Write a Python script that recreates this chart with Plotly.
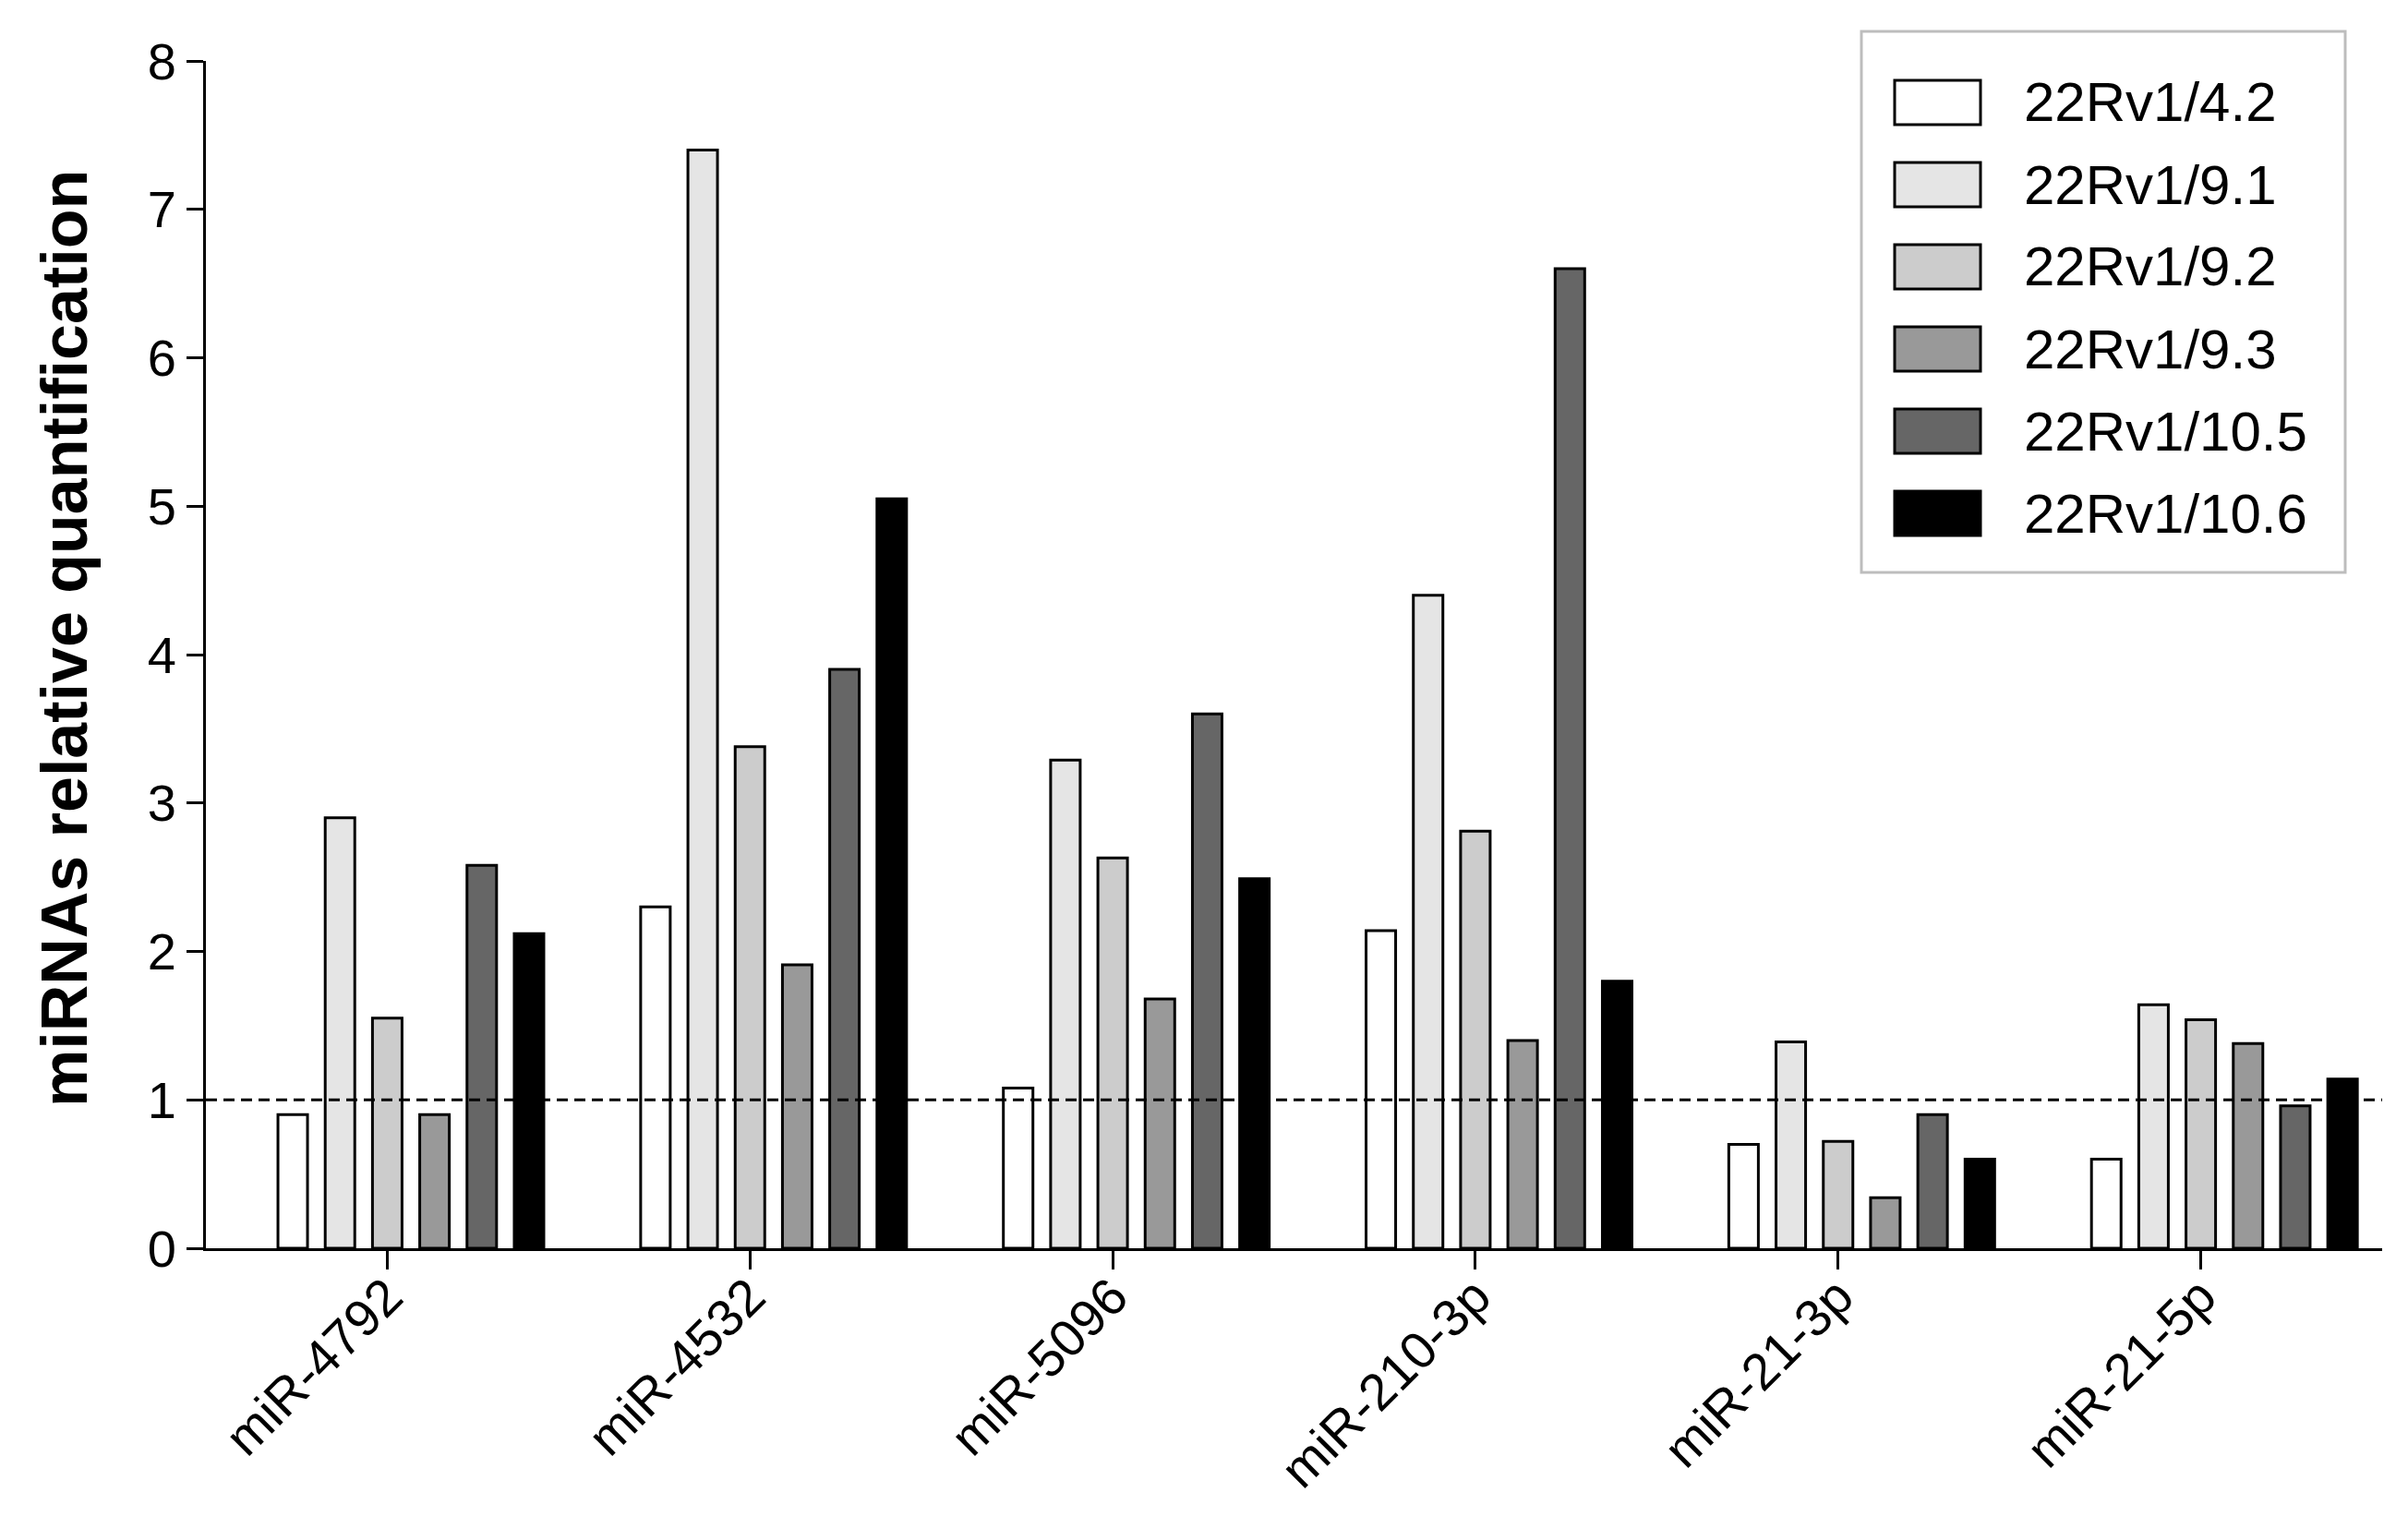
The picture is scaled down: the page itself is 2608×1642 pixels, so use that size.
import plotly.graph_objects as go

# ---- data ----
categories = ["miR-4792", "miR-4532", "miR-5096", "miR-210-3p", "miR-21-3p", "miR-21-5p"]
series_names = ["22Rv1/4.2", "22Rv1/9.1", "22Rv1/9.2", "22Rv1/9.3", "22Rv1/10.5", "22Rv1/10.6"]
v_4_2 = [0.90, 2.30, 1.08, 2.14, 0.70, 0.60]
v_9_1 = [2.90, 7.40, 3.29, 4.40, 1.39, 1.64]
v_9_2 = [1.55, 3.38, 2.63, 2.81, 0.72, 1.54]
v_9_3 = [0.90, 1.91, 1.68, 1.40, 0.34, 1.38]
v_10_5 = [2.58, 3.90, 3.60, 6.60, 0.90, 0.96]
v_10_6 = [2.12, 5.05, 2.49, 1.80, 0.60, 1.14]
series_values = [v_4_2, v_9_1, v_9_2, v_9_3, v_10_5, v_10_6]
y_ticks = [0, 1, 2, 3, 4, 5, 6, 7, 8]
reference_level = 1

# ---- style ----
colors = ["#ffffff", "#e5e5e5", "#cccccc", "#999999", "#666666", "#000000"]
FONT = "Arial, Liberation Sans, Helvetica, sans-serif"
PAGE_OFF = 8                      # default body margin of the html page
W, H = 2608 - 2 * PAGE_OFF, 1642 - 2 * PAGE_OFF
L, T = 223 - PAGE_OFF, 66 - PAGE_OFF
plot_w, plot_h = 2357, 1286
R = W - L - plot_w
B = H - T - plot_h

slot = 0.1303       # x-units per bar slot (7 slots per group, first empty)
bar_w = 0.0815      # x-units bar width

fig = go.Figure()
xs = list(range(len(categories)))
for i, (name, vals, col) in enumerate(zip(series_names, series_values, colors)):
    center = (i - 2) * slot
    fig.add_trace(go.Bar(
        x=xs, y=vals, name=name,
        width=bar_w, offset=center - bar_w / 2,
        marker=dict(color=col, line=dict(color="#000000", width=3)),
        showlegend=False,
    ))

# dashed reference line at y=1
fig.add_shape(type="line", xref="x domain", yref="y", x0=0, x1=1,
              y0=reference_level, y1=reference_level,
              line=dict(color="#000000", width=3, dash="12px,7px"), layer="above")

# page-pixel -> paper coordinates
def px_x(p):
    return (p - PAGE_OFF - L) / plot_w

def px_y(p):
    return (T + plot_h - (p - PAGE_OFF)) / plot_h

# custom legend (large swatches like the original)
fig.add_shape(type="rect", xref="paper", yref="paper",
              x0=px_x(2016), x1=px_x(2540), y0=px_y(620), y1=px_y(34),
              line=dict(color="#bdbdbd", width=3), fillcolor="white", layer="above")
row0, row_step = 111, 89
for i, (name, col) in enumerate(zip(series_names, colors)):
    cy = row0 + i * row_step
    fig.add_shape(type="rect", xref="paper", yref="paper",
                  x0=px_x(2052), x1=px_x(2145), y0=px_y(cy + 24), y1=px_y(cy - 24),
                  line=dict(color="#000000", width=3), fillcolor=col, layer="above")
    fig.add_annotation(xref="paper", yref="paper", x=px_x(2190), y=px_y(cy),
                       text=name, showarrow=False, xanchor="left", yanchor="middle",
                       font=dict(family=FONT, size=60, color="#000000"))

# y axis title
fig.add_annotation(xref="paper", yref="paper", x=px_x(70), y=px_y(692),
                   text="<b>miRNAs relative quantification</b>", textangle=-90,
                   showarrow=False, xanchor="center", yanchor="middle",
                   font=dict(family=FONT, size=70, color="#000000"))

fig.update_layout(
    width=W, height=H,
    margin=dict(l=L, r=R, t=T, b=B, autoexpand=False),
    paper_bgcolor="white", plot_bgcolor="white",
    barmode="overlay",
    font=dict(family=FONT, color="#000000"),
)
fig.update_xaxes(
    range=[-0.5, len(categories) - 0.5], automargin=False,
    tickmode="array", tickvals=xs, ticktext=categories,
    tickangle=-45, tickfont=dict(family=FONT, size=56, color="#000000"),
    ticklabelstandoff=-26,
    ticks="outside", ticklen=20, tickwidth=3, tickcolor="#000000",
    showline=True, linewidth=3, linecolor="#000000",
    showgrid=False, zeroline=False,
)
fig.update_yaxes(
    range=[0, 8], tickmode="array", tickvals=y_ticks, automargin=False,
    tickfont=dict(family=FONT, size=56, color="#000000"),
    ticks="outside", ticklen=18, tickwidth=3, tickcolor="#000000",
    showline=True, linewidth=3, linecolor="#000000",
    showgrid=False, zeroline=False,
)

fig.write_html("out.html")
